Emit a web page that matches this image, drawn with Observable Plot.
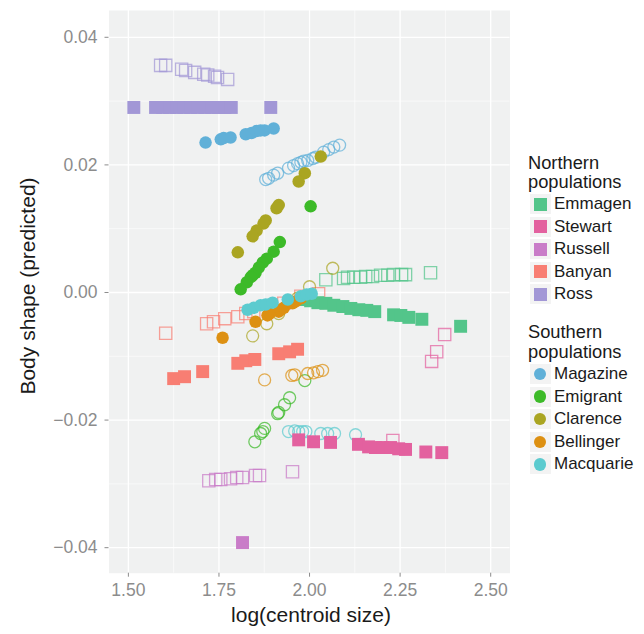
<!DOCTYPE html>
<html>
<head>
<meta charset="utf-8">
<script src="https://cdn.jsdelivr.net/npm/d3@7"></script>
<script src="https://cdn.jsdelivr.net/npm/@observablehq/plot@0.6"></script>
<style>
  body { margin: 0; background: #fff; font-family: "Liberation Sans", Arial, Helvetica, sans-serif; }
  #wrap { position: relative; width: 644px; height: 634px; }
  #wrap > svg { position: absolute; left: 0; top: 0; }
  .t { position: absolute; white-space: nowrap; color: #1a1a1a; }
</style>
</head>
<body>
<div id="wrap"></div>
<script>
// ---- ticks ----
const xTicks = [1.5, 1.75, 2, 2.25, 2.5];
const xMinor = [1.625, 1.875, 2.125, 2.375];
const yTicks = [-0.04, -0.02, 0, 0.02, 0.04];
const yMinor = [-0.03, -0.01, 0.01, 0.03];

// ---- populations ----
const northern = ["Emmagen", "Stewart", "Russell", "Banyan", "Ross"];
const northernColors = ["#53c58a", "#e3619f", "#c97cc8", "#f87e73", "#a297d6"];
const southern = ["Magazine", "Emigrant", "Clarence", "Bellinger", "Macquarie"];
const southernColors = ["#60b0d8", "#3cba28", "#aaa522", "#dd9012", "#5ccbcf"];

// ---- data: [log centroid size, body shape] ----
const emmagenFilled = [[1.987,-0.0011],[2.003,-0.0013],[2.023,-0.0016],[2.045,-0.0017],[2.067,-0.0020],[2.092,-0.0022],[2.114,-0.0025],[2.136,-0.0027],[2.158,-0.0028],[2.180,-0.0030],[2.232,-0.0035],[2.252,-0.0036],[2.274,-0.0039],[2.310,-0.0042],[2.417,-0.0053]];
const emmagenOpen = [[2.045,0.0020],[2.094,0.0022],[2.105,0.0024],[2.122,0.0024],[2.141,0.0024],[2.155,0.0025],[2.174,0.0025],[2.196,0.0027],[2.216,0.0027],[2.232,0.0028],[2.254,0.0028],[2.265,0.0028],[2.334,0.0031]];
const stewartFilled = [[1.970,-0.0231],[2.011,-0.0234],[2.058,-0.0235],[2.135,-0.0238],[2.163,-0.0242],[2.182,-0.0243],[2.202,-0.0243],[2.224,-0.0243],[2.246,-0.0245],[2.265,-0.0246],[2.321,-0.0250],[2.365,-0.0251]];
const stewartOpen = [[2.230,-0.0232],[2.373,-0.0066],[2.351,-0.0093],[2.337,-0.0108]];
const russellFilled = [[1.815,-0.0392]];
const russellOpen = [[1.722,-0.0295],[1.741,-0.0293],[1.755,-0.0293],[1.782,-0.0292],[1.799,-0.0290],[1.815,-0.0290],[1.851,-0.0287],[1.862,-0.0287],[1.953,-0.0281]];
const banyanFilled = [[1.625,-0.0135],[1.655,-0.0132],[1.705,-0.0124],[1.802,-0.0111],[1.824,-0.0107],[1.849,-0.0105],[1.915,-0.0096],[1.945,-0.0093],[1.967,-0.0089]];
const banyanOpen = [[1.603,-0.0064],[1.716,-0.0049],[1.735,-0.0046],[1.766,-0.0041],[1.802,-0.0038],[1.824,-0.0033],[1.846,-0.0030],[1.929,-0.0017],[1.976,-0.0006],[2.025,-0.0002]];
const rossFilled = [[1.515,0.0290],[1.575,0.0290],[1.595,0.0290],[1.614,0.0290],[1.633,0.0290],[1.653,0.0290],[1.672,0.0290],[1.691,0.0290],[1.711,0.0290],[1.730,0.0290],[1.749,0.0290],[1.766,0.0290],[1.784,0.0290],[1.893,0.0290]];
const rossOpen = [[1.589,0.0356],[1.603,0.0356],[1.647,0.0350],[1.658,0.0348],[1.683,0.0345],[1.708,0.0342],[1.719,0.0341],[1.738,0.0339],[1.746,0.0337],[1.774,0.0334]];
const magazineFilled = [[1.713,0.0235],[1.755,0.0240],[1.763,0.0242],[1.782,0.0243],[1.824,0.0248],[1.840,0.0250],[1.854,0.0253],[1.865,0.0254],[1.876,0.0254],[1.901,0.0257]];
const magazineOpen = [[1.879,0.0177],[1.887,0.0179],[1.901,0.0184],[1.912,0.0187],[1.942,0.0195],[1.956,0.0199],[1.967,0.0202],[1.976,0.0204],[1.984,0.0206],[1.995,0.0207],[2.009,0.0210],[2.017,0.0212],[2.039,0.0220],[2.053,0.0224],[2.067,0.0228],[2.083,0.0231]];
const emigrantFilled = [[2.003,0.0135],[1.918,0.0079],[1.901,0.0064],[1.882,0.0053],[1.871,0.0047],[1.860,0.0039],[1.851,0.0031],[1.843,0.0027],[1.838,0.0024],[1.827,0.0016],[1.810,0.0005]];
const emigrantOpen = [[1.987,-0.0138],[1.945,-0.0165],[1.931,-0.0176],[1.915,-0.0188],[1.912,-0.0190],[1.876,-0.0213],[1.871,-0.0218],[1.865,-0.0221],[1.849,-0.0234]];
const clarenceFilled = [[2.031,0.0213],[1.987,0.0187],[1.970,0.0174],[1.915,0.0137],[1.909,0.0132],[1.879,0.0113],[1.873,0.0108],[1.854,0.0097],[1.843,0.0088],[1.802,0.0063]];
const clarenceOpen = [[2.064,0.0038],[2.000,0.0009],[1.967,-0.0009],[1.915,-0.0033],[1.882,-0.0049],[1.843,-0.0068]];
const bellingerFilled = [[1.760,-0.0071],[1.851,-0.0046],[1.884,-0.0036],[1.890,-0.0033],[1.915,-0.0030],[1.920,-0.0027],[1.929,-0.0024],[1.953,-0.0017],[1.962,-0.0014],[1.976,-0.0009]];
const bellingerOpen = [[1.876,-0.0137],[1.951,-0.0130],[1.959,-0.0129],[1.995,-0.0127],[2.011,-0.0126],[2.023,-0.0124],[2.036,-0.0122]];
const macquarieFilled = [[1.829,-0.0027],[1.846,-0.0024],[1.865,-0.0020],[1.879,-0.0019],[1.898,-0.0016],[1.940,-0.0011],[1.976,-0.0006],[1.992,-0.0003],[2.006,-0.0002]];
const macquarieOpen = [[1.942,-0.0218],[1.959,-0.0217],[1.970,-0.0218],[1.981,-0.0218],[1.990,-0.0218],[2.031,-0.0221],[2.050,-0.0221],[2.069,-0.0221],[2.127,-0.0223]];

const series = [
  {name: "Emmagen",  sym: "square", filled: emmagenFilled,  open: emmagenOpen},
  {name: "Stewart",  sym: "square", filled: stewartFilled,  open: stewartOpen},
  {name: "Russell",  sym: "square", filled: russellFilled,  open: russellOpen},
  {name: "Banyan",   sym: "square", filled: banyanFilled,   open: banyanOpen},
  {name: "Ross",     sym: "square", filled: rossFilled,     open: rossOpen},
  {name: "Magazine", sym: "circle", filled: magazineFilled, open: magazineOpen},
  {name: "Emigrant", sym: "circle", filled: emigrantFilled, open: emigrantOpen},
  {name: "Clarence", sym: "circle", filled: clarenceFilled, open: clarenceOpen},
  {name: "Bellinger",sym: "circle", filled: bellingerFilled,open: bellingerOpen},
  {name: "Macquarie",sym: "circle", filled: macquarieFilled,open: macquarieOpen}
];
const colorOf = name => {
  const i = northern.indexOf(name);
  return i >= 0 ? northernColors[i] : southernColors[southern.indexOf(name)];
};

const openMarks = series.map(s => Plot.dot(s.open, {
  x: d => d[0], y: d => d[1], symbol: s.sym,
  r: s.sym === "square" ? 6.9 : 6.0,
  fill: "none", stroke: colorOf(s.name), strokeWidth: 1.3, strokeOpacity: 0.72
}));
const filledMarks = series.map(s => Plot.dot(s.filled, {
  x: d => d[0], y: d => d[1], symbol: s.sym,
  r: s.sym === "square" ? 7.3 : 6.25,
  fill: colorOf(s.name), stroke: "none"
}));

const tickColor = "#8c8c8c";
const chart = Plot.plot({
  width: 644, height: 634,
  marginLeft: 108.5, marginRight: 134.5, marginTop: 10, marginBottom: 61.3,
  style: {fontFamily: '"Liberation Sans", Arial, Helvetica, sans-serif', background: "transparent"},
  x: {domain: [1.4465, 2.5533]},
  y: {domain: [-0.0440, 0.0442]},
  marks: [
    Plot.frame({fill: "#f0f1f1", stroke: null}),
    Plot.gridX({ticks: xMinor, stroke: "#ffffff", strokeOpacity: 1, strokeWidth: 0.6}),
    Plot.gridY({ticks: yMinor, stroke: "#ffffff", strokeOpacity: 1, strokeWidth: 0.6}),
    Plot.gridX({ticks: xTicks, stroke: "#ffffff", strokeOpacity: 1, strokeWidth: 1.3}),
    Plot.gridY({ticks: yTicks, stroke: "#ffffff", strokeOpacity: 1, strokeWidth: 1.3}),
    Plot.axisX({ticks: xTicks, tickFormat: d3.format(".2f"), tickSize: 4, tickPadding: 6,
      fontSize: 17.5, fill: tickColor, stroke: tickColor, label: null}),
    Plot.axisY({ticks: yTicks, tickFormat: d3.format(".2f"), tickSize: 4, tickPadding: 7.5,
      fontSize: 17.5, fill: tickColor, stroke: tickColor, label: null}),
    ...openMarks,
    ...filledMarks
  ]
});
const wrap = document.getElementById("wrap");
wrap.appendChild(chart);

// ---- axis titles ----
function addText(txt, css) {
  const el = document.createElement("div");
  el.className = "t";
  el.textContent = txt;
  Object.assign(el.style, css);
  wrap.appendChild(el);
  return el;
}
addText("log(centroid size)", {left: "311px", top: "604px", fontSize: "21px", lineHeight: "21px", transform: "translateX(-50%)"});
addText("Body shape (predicted)", {left: "27px", top: "286px", fontSize: "21px", lineHeight: "21px", transform: "translate(-50%,-50%) rotate(-90deg)"});

// ---- legend ----
const legendGroups = [
  {title: ["Northern", "populations"], names: northern, colors: northernColors, sym: "square", titleTop: 152.5, firstKey: 204},
  {title: ["Southern", "populations"], names: southern, colors: southernColors, sym: "circle", titleTop: 322, firstKey: 374}
];
legendGroups.forEach(g => {
  g.title.forEach((line, i) => addText(line, {left: "528px", top: (g.titleTop + i * 19.5) + "px", fontSize: "18.3px", lineHeight: "19.5px"}));
  g.names.forEach((name, i) => {
    const cy = g.firstKey + i * 22.6;
    const bg = document.createElement("div");
    Object.assign(bg.style, {position: "absolute", left: "529.5px", top: (cy - 10) + "px", width: "21px", height: "20px", background: "#f3f3f3"});
    wrap.appendChild(bg);
    const k = document.createElement("div");
    const s = g.sym === "square" ? 13 : 12.5;
    Object.assign(k.style, {position: "absolute", left: (540 - s / 2) + "px", top: (cy - s / 2) + "px", width: s + "px", height: s + "px",
      background: g.colors[i], borderRadius: g.sym === "circle" ? "50%" : "0"});
    wrap.appendChild(k);
    addText(name, {left: "554px", top: (cy - 11) + "px", fontSize: "17px", lineHeight: "22px"});
  });
});
</script>
</body>
</html>
